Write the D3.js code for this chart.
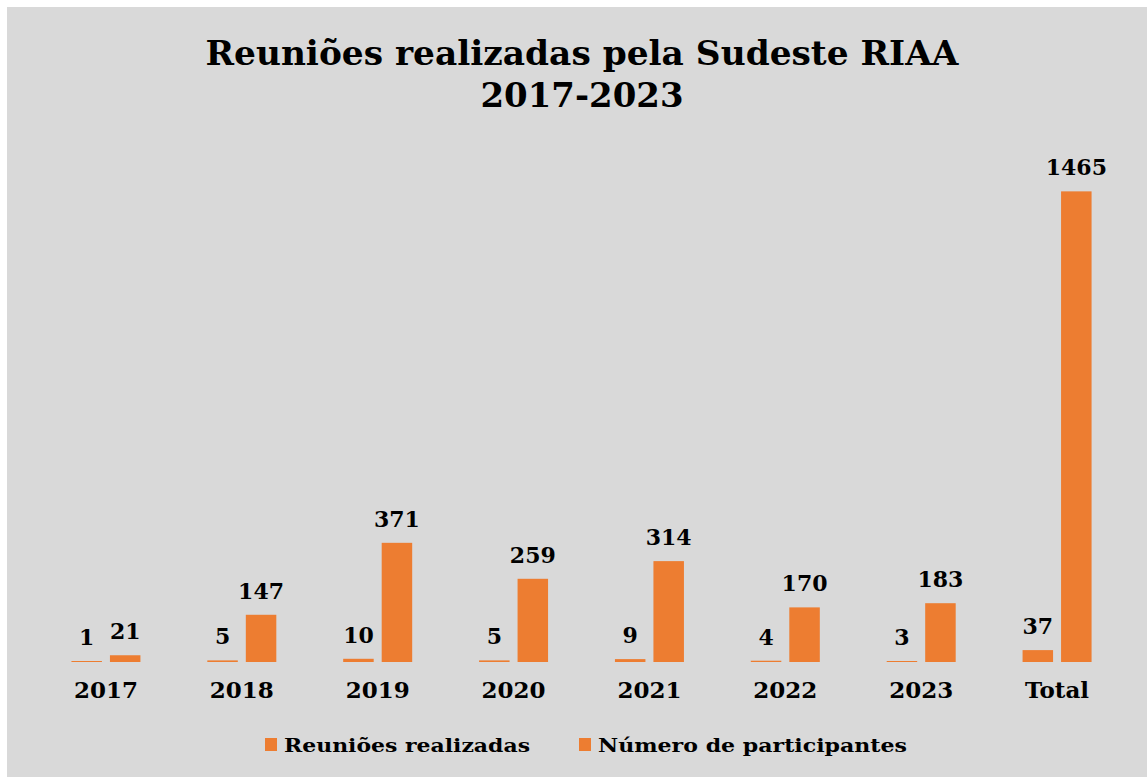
<!DOCTYPE html>
<html>
<head>
<meta charset="utf-8">
<script src="https://cdn.jsdelivr.net/npm/d3@7"></script>
<style>
  html, body { margin: 0; padding: 0; background: #ffffff; }
  svg { display: block; }
  text { font-family: "DejaVu Serif", "Liberation Serif", serif; font-weight: bold; fill: #000; }
</style>
</head>
<body>
<svg id="chart"></svg>
<script>
const categories = ["2017", "2018", "2019", "2020", "2021", "2022", "2023", "Total"];
const seriesNames = ["Reuniões realizadas", "Número de participantes"];
const reunioes = [1, 5, 10, 5, 9, 4, 3, 37];
const participantes = [21, 147, 371, 259, 314, 170, 183, 1465];

const width = 1147;
const height = 777;
const svg = d3.select("#chart").attr("width", width).attr("height", height);

// fundo cinza do gráfico
svg.append("rect")
  .attr("x", 7).attr("y", 7)
  .attr("width", width - 7).attr("height", height - 7)
  .attr("fill", "#d9d9d9");

const plot = { left: 38, right: 1125, top: 148, bottom: 662 };

const x = d3.scaleBand()
  .domain(categories)
  .range([plot.left, plot.right])
  .paddingInner(0.5)
  .paddingOuter(0.25);

const y = d3.scaleLinear()
  .domain([0, 1600])
  .range([plot.bottom, plot.top]);

const barW = 30.5;
const gap = 8;
const orange = "#ed7d31";

const rows = categories.map((c, i) => ({ cat: c, vals: [reunioes[i], participantes[i]] }));

const groups = svg.append("g").selectAll("g")
  .data(rows)
  .join("g")
  .attr("transform", (d) => `translate(${x(d.cat) + x.bandwidth() / 2},0)`);

groups.selectAll("rect")
  .data((d) => d.vals.map((v, k) => ({ v, k })))
  .join("rect")
  .attr("x", (d) => (d.k === 0 ? -gap / 2 - barW : gap / 2))
  .attr("y", (d) => Math.min(y(d.v), plot.bottom - 1))
  .attr("width", barW)
  .attr("height", (d) => Math.max(plot.bottom - y(d.v), 1))
  .attr("fill", orange);

groups.selectAll("text.val")
  .data((d) => d.vals.map((v, k) => ({ v, k })))
  .join("text")
  .attr("class", "val")
  .attr("x", (d) => (d.k === 0 ? -gap / 2 - barW / 2 : gap / 2 + barW / 2))
  .attr("y", (d) => Math.min(y(d.v), plot.bottom - 1) - 16)
  .attr("text-anchor", "middle")
  .style("font-size", "22px")
  .text((d) => d.v);

// eixo x (só rótulos)
const xAxis = svg.append("g")
  .attr("transform", `translate(0,${plot.bottom})`)
  .call(d3.axisBottom(x).tickSize(0).tickPadding(20));
xAxis.select(".domain").remove();
xAxis.selectAll("text")
  .style("font-family", '"DejaVu Serif", serif')
  .style("font-weight", "bold")
  .style("font-size", "23px")
  .attr("fill", "#000");

// título
const title = svg.append("text")
  .attr("text-anchor", "middle")
  .style("font-size", "33px");
title.append("tspan").attr("x", 582).attr("y", 65)
  .attr("textLength", 753).attr("lengthAdjust", "spacingAndGlyphs")
  .text("Reuniões realizadas pela Sudeste RIAA");
title.append("tspan").attr("x", 582).attr("y", 107)
  .attr("textLength", 203).attr("lengthAdjust", "spacingAndGlyphs")
  .text("2017-2023");

// legenda
const legendItems = [
  { name: seriesNames[0], x: 265, len: 246 },
  { name: seriesNames[1], x: 579, len: 309 },
];
const legend = svg.append("g").selectAll("g")
  .data(legendItems)
  .join("g")
  .attr("transform", (d) => `translate(${d.x},745)`);
legend.append("rect")
  .attr("x", 0).attr("y", -7)
  .attr("width", 12).attr("height", 13)
  .attr("fill", orange);
legend.append("text")
  .attr("x", 19).attr("y", 7)
  .attr("textLength", (d) => d.len)
  .attr("lengthAdjust", "spacingAndGlyphs")
  .style("font-size", "19px")
  .text((d) => d.name);
</script>
</body>
</html>
